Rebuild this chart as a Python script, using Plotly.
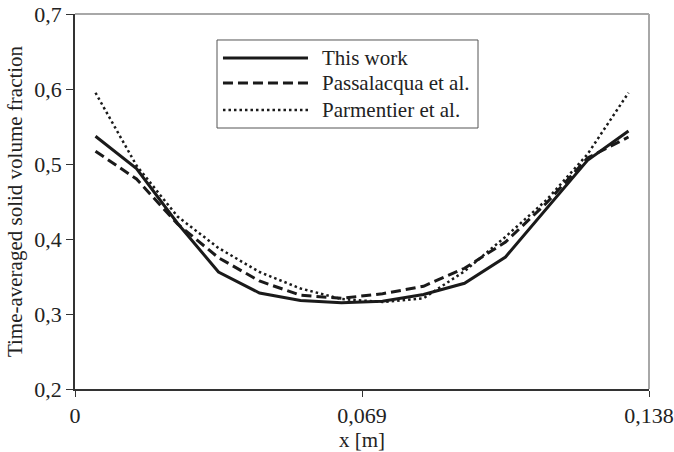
import plotly.graph_objects as go

# Cell-centre positions across the 0.138 m domain (14 cells)
n_cells = 14
domain_width = 0.138
x_pos = [(k + 0.5) * domain_width / n_cells for k in range(n_cells)]

# Time-averaged solid volume fraction profiles
this_work = [0.537, 0.494, 0.421, 0.356, 0.328, 0.318, 0.315,
             0.317, 0.326, 0.341, 0.376, 0.440, 0.505, 0.544]
passalacqua = [0.517, 0.480, 0.420, 0.375, 0.344, 0.325, 0.321,
               0.327, 0.337, 0.361, 0.396, 0.448, 0.508, 0.536]
parmentier = [0.595, 0.498, 0.430, 0.388, 0.356, 0.334, 0.320,
              0.316, 0.321, 0.357, 0.403, 0.452, 0.513, 0.595]

series_names = ["This work", "Passalacqua et al.", "Parmentier et al."]
series_values = [this_work, passalacqua, parmentier]
series_dash = ["solid", "10px,5px", "2.5px,3px"]
series_width = [3, 3, 2.5]

x_ticks = [0, 0.069, 0.138]
x_tick_text = ["0", "0,069", "0,138"]
y_ticks = [0.2, 0.3, 0.4, 0.5, 0.6, 0.7]
y_tick_text = ["0,2", "0,3", "0,4", "0,5", "0,6", "0,7"]

FONT = "Liberation Serif"
INK = "#1a1a1a"

fig = go.Figure()
for name, vals, dash, w in zip(series_names, series_values, series_dash, series_width):
    fig.add_trace(go.Scatter(
        x=x_pos, y=vals, mode="lines", name=name,
        line=dict(color=INK, width=w, dash=dash),
        showlegend=False,
    ))

# Hand-built legend box with long line samples
shapes = [
    dict(type="rect", xref="paper", yref="paper",
         x0=0.2474, x1=0.7021, y0=0.696, y1=0.9307,
         line=dict(color="#555555", width=1), fillcolor="white", layer="above"),
    # frame: top and right edges in grey
    dict(type="line", xref="paper", yref="paper", x0=0, x1=1, y0=1, y1=1,
         line=dict(color="#a8a8a8", width=2)),
    dict(type="line", xref="paper", yref="paper", x0=1, x1=1, y0=0, y1=1,
         line=dict(color="#a8a8a8", width=2)),
]
annotations = []
row_y = [0.8827, 0.8160, 0.7440]
for name, dash, w, ry in zip(series_names, series_dash, series_width, row_y):
    shapes.append(dict(type="line", xref="paper", yref="paper",
                       x0=0.2578, x1=0.4059, y0=ry, y1=ry,
                       line=dict(color=INK, width=w, dash=dash), layer="above"))
    annotations.append(dict(xref="paper", yref="paper", x=0.4268, y=ry,
                            xanchor="left", yanchor="middle", showarrow=False,
                            text=name, font=dict(family=FONT, size=21, color="#222222")))

fig.update_layout(
    width=674, height=452,
    margin=dict(l=75, r=25, t=14, b=63, autoexpand=False),
    paper_bgcolor="white", plot_bgcolor="white",
    font=dict(family=FONT, size=22, color="#222222"),
    shapes=shapes, annotations=annotations,
    showlegend=False,
)
fig.update_xaxes(
    range=[0, 0.138], tickvals=x_ticks, ticktext=x_tick_text, automargin=False,
    showgrid=False, zeroline=False, showline=True, linecolor="#333333", linewidth=1.5,
    ticks="outside", ticklen=6, tickcolor="#333333", tickwidth=1.2,
    title=dict(text="x [m]", standoff=8, font=dict(family=FONT, size=21)),
)
fig.update_yaxes(
    range=[0.2, 0.7], tickvals=y_ticks, ticktext=y_tick_text, automargin=False,
    showgrid=False, zeroline=False, showline=True, linecolor="#333333", linewidth=1.5,
    ticks="outside", ticklen=7, tickcolor="#333333", tickwidth=1.2,
    title=dict(text="Time-averaged solid volume fraction", standoff=6,
               font=dict(family=FONT, size=21)),
)

fig.write_html("out.html")
